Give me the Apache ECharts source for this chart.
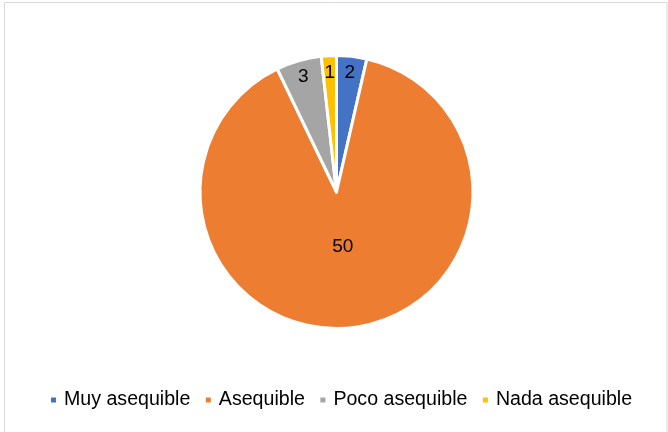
<!DOCTYPE html>
<html>
<head>
<meta charset="utf-8">
<script src="https://cdn.jsdelivr.net/npm/echarts@6/dist/echarts.min.js"></script>
<style>
  html, body { margin: 0; padding: 0; background: #ffffff; }
  #chart { width: 668px; height: 432px; }
</style>
</head>
<body>
<div id="chart"></div>
<script>
// Categories and counts for each slice
const categories = ['Muy asequible', 'Asequible', 'Poco asequible', 'Nada asequible'];
const counts = [2, 50, 3, 1];
const colors = ['#4472C4', '#ED7D31', '#A5A5A5', '#FFC000'];

const FONT = '"Liberation Sans", Arial, sans-serif';
const CX = 336.5, CY = 192, R = 136.5;
const total = counts.reduce((a, b) => a + b, 0);

const chart = echarts.init(document.getElementById('chart'), null, { renderer: 'canvas' });

chart.setOption({
  backgroundColor: '#ffffff',
  animation: false,
  graphic: [{
    type: 'rect',
    shape: { x: 4.5, y: 2.5, width: 662.5, height: 440 },
    style: { fill: 'none', stroke: '#d9d9d9', lineWidth: 1 },
    silent: true
  }],
  legend: {
    data: categories,
    left: 49,
    top: 390,
    padding: 0,
    icon: 'rect',
    itemWidth: 7,
    itemHeight: 7,
    itemGap: 13.5,
    textStyle: { fontFamily: FONT, fontSize: 19.6, color: '#000000', padding: [0, 0, 0, 2] }
  },
  series: [{
    type: 'pie',
    center: [CX, CY],
    radius: [0, R],
    startAngle: 90,
    clockwise: true,
    avoidLabelOverlap: false,
    itemStyle: { borderColor: '#ffffff', borderWidth: 3 },
    label: {
      show: true,
      position: 'inside',
      formatter: '{c}',
      fontFamily: FONT,
      fontSize: 19,
      color: '#000000'
    },
    labelLine: { show: false },
    // Narrow slices carry their value near the rim, the wide one nearer the centre
    labelLayout: function (params) {
      const r = params.labelRect;
      const lx = r.x + r.width / 2, ly = r.y + r.height / 2;
      const share = counts[params.dataIndex] / total;
      const target = share < 0.1 ? 0.84 : 0.39;
      const k = target / 0.5 - 1;
      return { dx: (lx - CX) * k, dy: (ly - CY) * k };
    },
    emphasis: { disabled: true },
    data: categories.map((name, i) => ({
      name: name,
      value: counts[i],
      itemStyle: { color: colors[i] }
    }))
  }]
});
</script>
</body>
</html>
